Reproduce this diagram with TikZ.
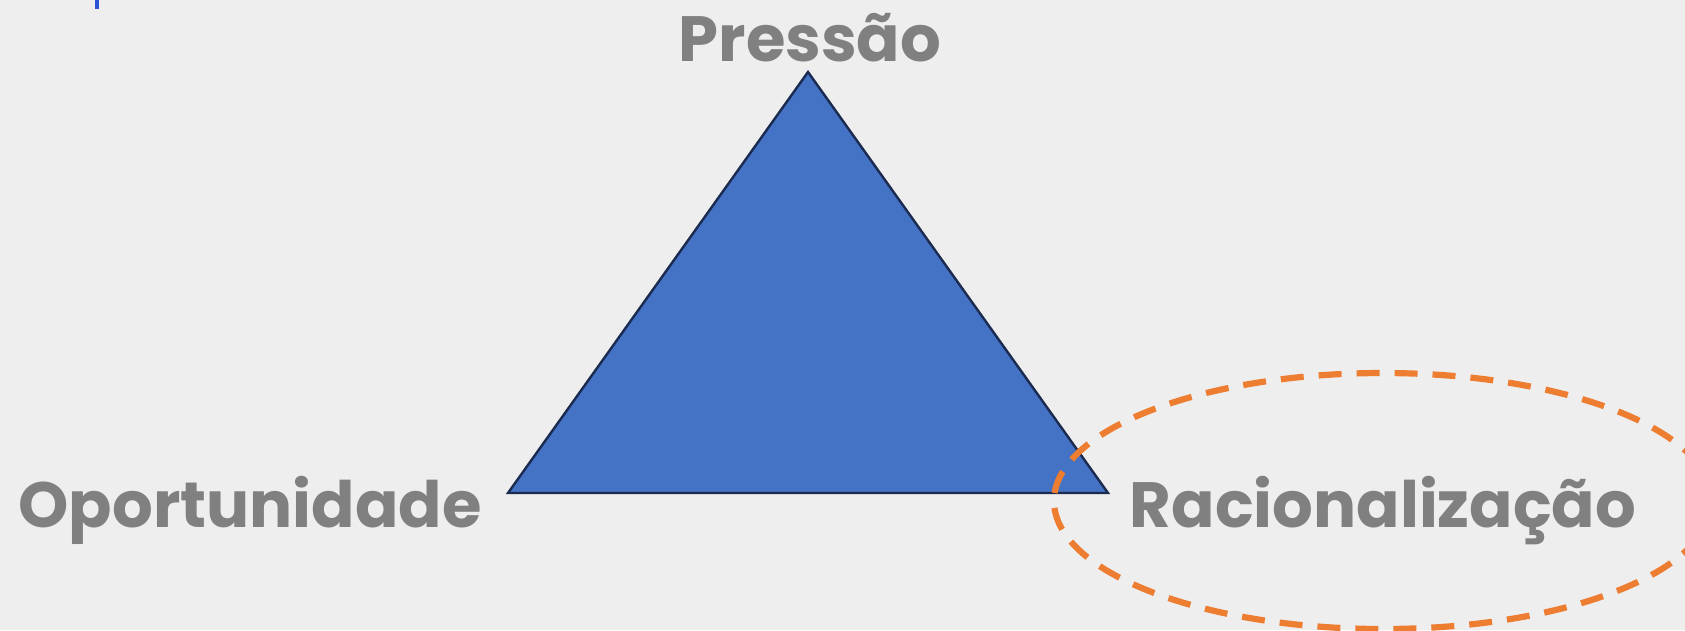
\documentclass[tikz,border=0pt]{standalone}
\usepackage{fontspec}
\setmainfont{Poppins}
\definecolor{bg}{HTML}{EEEEEE}
\definecolor{labgray}{HTML}{808080}
\definecolor{trifill}{HTML}{4472C4}
\definecolor{triline}{HTML}{1B2B50}
\definecolor{ellorange}{HTML}{ED7D31}
\definecolor{markblue}{HTML}{2A52D6}
\begin{document}
\begin{tikzpicture}[x=1pt,y=-1pt,
  lab/.style={text=labgray,font=\bfseries\fontsize{64}{76}\selectfont,inner sep=0pt,anchor=base},
  tri/.style={fill=trifill,draw=triline,line width=2.4pt,line join=miter},
  ring/.style={draw=ellorange,line width=6.2pt,dash pattern=on 23pt off 15pt}]
\useasboundingbox (0,0) rectangle (1685,630);
\fill[bg] (0,0) rectangle (1685,630);
\clip (0,0) rectangle (1685,630);
\fill[markblue] (95,0) rectangle (99,9);
\coordinate (apex) at (808,72);
\coordinate (bl) at (508,493);
\coordinate (br) at (1108,493);
\draw[tri] (apex) -- (br) -- (bl) -- cycle;
\draw[ring] (1383,501) ellipse [x radius=329pt, y radius=128pt];
\node[lab] (p) at (810,61) {Pressão};
\node[lab] (o) at (250,527) {Oportunidade};
\node[lab] (r) at (1383,527) {Racionalização};
\end{tikzpicture}
\end{document}
